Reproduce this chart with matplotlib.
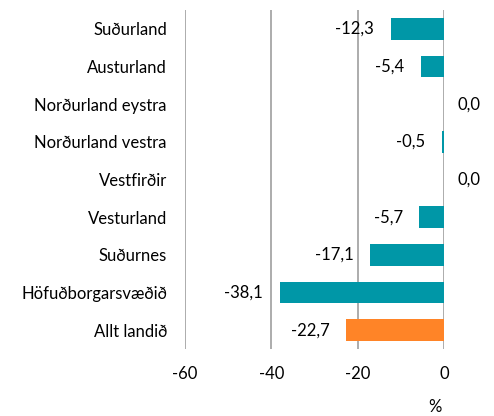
import matplotlib
matplotlib.use('Agg')
import matplotlib.pyplot as plt

plt.rcParams['font.family'] = ['Lato', 'DejaVu Sans']

# regions, top to bottom
regions = ['Suðurland', 'Austurland', 'Norðurland eystra', 'Norðurland vestra',
           'Vestfirðir', 'Vesturland', 'Suðurnes', 'Höfuðborgarsvæðið', 'Allt landið']
values = [-12.3, -5.4, 0.0, -0.5, 0.0, -5.7, -17.1, -38.1, -22.7]
teal = '#0097A7'
orange = '#FF8427'
colors = [teal] * 8 + [orange]
xticks = [-60, -40, -20, 0]

fig = plt.figure(figsize=(4.94, 4.16), dpi=100)
ax = fig.add_axes([0.3745, 0.161, 0.5243, 0.815])

ypos = list(range(len(regions)))[::-1]
ax.set_axisbelow(True)
ax.barh(ypos, values, height=0.58, color=colors)

fs = 12
# data labels, comma decimals
for y, v in zip(ypos, values):
    txt = f'{v:.1f}'.replace('.', ',')
    if v < 0:
        ax.annotate(txt, (v, y), xytext=(-12, 0), textcoords='offset points',
                    ha='right', va='center', fontsize=fs)
    else:
        ax.annotate(txt, (v, y), xytext=(10, 0), textcoords='offset points',
                    ha='left', va='center', fontsize=fs, annotation_clip=False)

ax.set_xlim(-60, 0)
ax.set_ylim(-0.5, len(regions) - 0.5)
ax.set_xticks(xticks)
ax.set_xticklabels([str(t) for t in xticks], fontsize=fs)
ax.set_yticks(ypos)
ax.set_yticklabels(regions, fontsize=fs)
ax.tick_params(axis='both', length=0)
ax.tick_params(axis='x', pad=12)
ax.tick_params(axis='y', pad=13)
ax.grid(axis='x', color='#A6A6A6', linewidth=1.3)
for s in ax.spines.values():
    s.set_visible(False)

fig.text(435 / 494, 1 - 407 / 416, '%', ha='center', va='center', fontsize=fs)

fig.savefig('out.png', dpi=100)
